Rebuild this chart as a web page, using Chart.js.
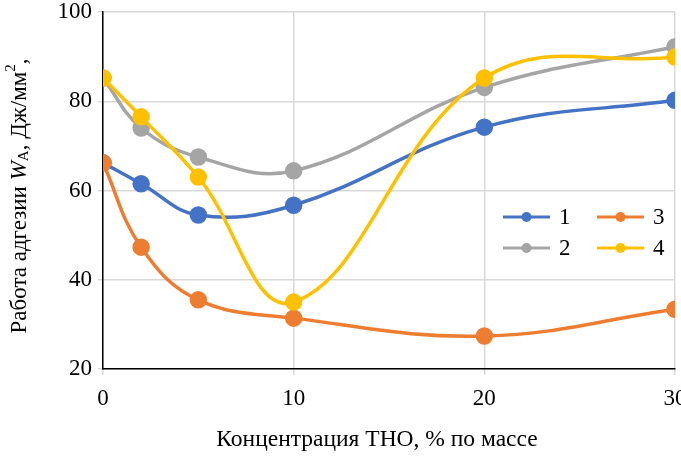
<!DOCTYPE html>
<html>
<head>
<meta charset="utf-8">
<script src="https://cdn.jsdelivr.net/npm/chart.js@4.4.1/dist/chart.umd.min.js"></script>
<style>
  html, body { margin: 0; padding: 0; background: #fff; }
  #wrap { width: 681px; height: 461px; position: relative; }
</style>
</head>
<body>
<div id="wrap"><canvas id="adhesionChart"></canvas></div>
<script>
// concentration of THO, % by mass
const concentrations = [0, 2, 5, 10, 20, 30];

// adhesion work for the four compositions
const series1 = [66.2, 61.5, 54.5, 56.7, 74.2, 80.2];
const series2 = [85.2, 74.0, 67.5, 64.4, 83.1, 92.2];
const series3 = [66.2, 47.3, 35.5, 31.4, 27.4, 33.4];
const series4 = [85.2, 76.5, 63.0, 35.0, 85.2, 89.9];

const seriesNames = ['1', '2', '3', '4'];
const seriesColors = ['#4472C4', '#A5A5A5', '#ED7D31', '#FFC000'];

const xTicks = [0, 10, 20, 30];
const yTicks = [20, 40, 60, 80, 100];

const xTitle = 'Концентрация ТНО, % по массе';

const serif = "'Liberation Serif', 'Times New Roman', serif";

const toPoints = values => values.map((v, i) => ({ x: concentrations[i], y: v }));

const allSeries = [series1, series2, series3, series4];

document.addEventListener('DOMContentLoaded', () => {
    const ctx = document.getElementById('adhesionChart').getContext('2d');

    // legend drawn inside the plot, 2 columns: 1 3 / 2 4
    const insideLegend = {
        id: 'insideLegend',
        afterDraw(chart) {
            const c = chart.ctx;
            const area = chart.chartArea;
            const layout = [[0, 2], [1, 3]];
            c.save();
            c.font = '23px ' + serif;
            c.textBaseline = 'middle';
            layout.forEach((row, r) => {
                row.forEach((idx, col) => {
                    const x0 = area.right - 172 + col * 94;
                    const y = area.top + 205 + r * 31;
                    c.strokeStyle = seriesColors[idx];
                    c.lineWidth = 3;
                    c.beginPath();
                    c.moveTo(x0, y);
                    c.lineTo(x0 + 47, y);
                    c.stroke();
                    c.fillStyle = seriesColors[idx];
                    c.beginPath();
                    c.arc(x0 + 23.5, y, 5, 0, Math.PI * 2);
                    c.fill();
                    c.fillStyle = '#000';
                    c.textAlign = 'left';
                    c.fillText(seriesNames[idx], x0 + 56, y + 1);
                });
            });
            c.restore();
        }
    };

    // axis titles: rotated y title with italic W, subscript A and superscript 2
    const axisTitles = {
        id: 'axisTitles',
        afterDraw(chart) {
            const c = chart.ctx;
            const parts = [
                { t: 'Работа адгезии ', f: '23px ' + serif, dy: 0 },
                { t: 'W', f: 'italic 23px ' + serif, dy: 0 },
                { t: 'A', f: '15px ' + serif, dy: 4 },
                { t: ', Дж/мм', f: '23px ' + serif, dy: 0 },
                { t: '2', f: '15px ' + serif, dy: -9 },
                { t: ',', f: '23px ' + serif, dy: 0 }
            ];
            c.save();
            c.fillStyle = '#000';
            c.textBaseline = 'middle';

            c.font = '23.5px ' + serif;
            c.textAlign = 'center';
            c.fillText(xTitle, 377, 440);

            let total = 0;
            parts.forEach(p => { c.font = p.f; p.w = c.measureText(p.t).width; total += p.w; });
            c.translate(20, 196);
            c.rotate(-Math.PI / 2);
            c.textAlign = 'left';
            let x = -total / 2;
            parts.forEach(p => {
                c.font = p.f;
                c.fillText(p.t, x, p.dy);
                x += p.w;
            });
            c.restore();
        }
    };

    new Chart(ctx, {
        type: 'line',
        data: {
            datasets: allSeries.map((values, i) => ({
                label: seriesNames[i],
                data: toPoints(values),
                borderColor: seriesColors[i],
                backgroundColor: seriesColors[i],
                borderWidth: 3.5,
                pointRadius: 7,
                pointHoverRadius: 7,
                tension: 0.4,
                order: 3 - i
            }))
        },
        options: {
            responsive: true,
            maintainAspectRatio: false,
            animation: false,
            layout: { autoPadding: false, padding: { top: 0, right: 6, bottom: 0, left: 0 } },
            plugins: {
                legend: { display: false },
                tooltip: { enabled: false }
            },
            scales: {
                x: {
                    type: 'linear',
                    min: 0,
                    max: 30,
                    afterBuildTicks: scale => { scale.ticks = xTicks.map(v => ({ value: v })); },
                    afterFit: scale => { scale.paddingLeft = 0; scale.paddingRight = 0; scale.height = 92; },
                    grid: { color: '#d9d9d9', lineWidth: 1.5, tickLength: 6 },
                    border: { color: '#000', width: 1.5 },
                    ticks: { color: '#000', font: { family: serif, size: 23 }, padding: 10, maxRotation: 0 }
                },
                y: {
                    min: 20,
                    max: 100,
                    afterBuildTicks: scale => { scale.ticks = yTicks.map(v => ({ value: v })); },
                    afterFit: scale => { scale.width = 103; scale.paddingTop = 12; scale.paddingBottom = 0; },
                    grid: { color: '#d9d9d9', lineWidth: 1.5, tickLength: 5 },
                    border: { color: '#000', width: 1.5 },
                    ticks: { color: '#000', font: { family: serif, size: 23 }, padding: 6 }
                }
            }
        },
        plugins: [insideLegend, axisTitles]
    });
});
</script>
</body>
</html>
